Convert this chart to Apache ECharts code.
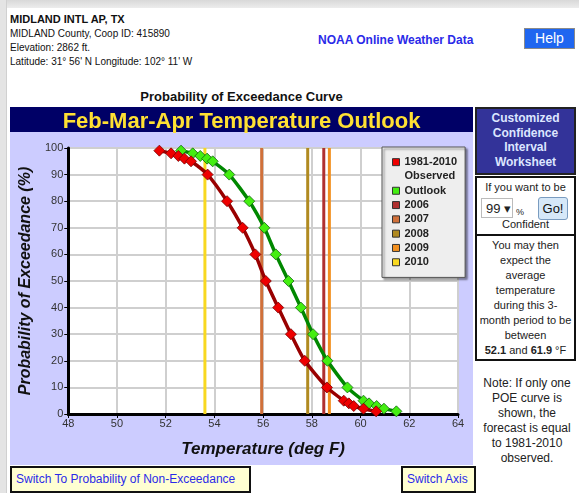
<!DOCTYPE html>
<html>
<head>
<meta charset="utf-8">
<script src="https://cdn.jsdelivr.net/npm/echarts@6/dist/echarts.min.js"></script>
<style>
  html, body { margin: 0; padding: 0; }
  body {
    width: 579px; height: 493px; position: relative; overflow: hidden;
    background: #ffffff; font-family: "Liberation Sans", Arial, sans-serif;
  }
  .frame-top { position: absolute; left: 0; top: 0; width: 579px; height: 8px; background: linear-gradient(#d8d8d8, #ececec); }
  .frame-left { position: absolute; left: 0; top: 0; width: 6px; height: 493px; background: #e4e4e4; border-right: 1px solid #d0d0d0; }
  .abs { position: absolute; }
  .station { left: 10px; top: 12px; font-size: 10px; color: #111; line-height: 14px; }
  .station b { font-size: 11px; }
  .noaa { left: 318px; top: 33px; font-size: 12px; font-weight: bold; color: #2a2ae8; }
  .help { left: 524px; top: 28px; width: 49px; height: 19px; background: #1f66f0; color: #fff; font-size: 14px;
          text-align: center; line-height: 19px; border: 1px solid #8a8a8a; box-sizing: content-box; }
  .poe { left: 10px; top: 89px; width: 463px; text-align: center; font-size: 13px; font-weight: bold; color: #111; }
  #chart { position: absolute; left: 10px; top: 107px; width: 463px; height: 358px; }
  .ws-title { left: 475px; top: 107px; width: 97px; height: 62px; background: #333399; border: 2px solid #222;
              color: #dde6ff; font-size: 12px; font-weight: bold; text-align: center; line-height: 14.5px; padding-top: 2px; }
  .ws-box { left: 475px; width: 97px; border: 2px solid #111; text-align: center; font-size: 11px; color: #222; background: #fff; }
  .ws-a { top: 176px; height: 56px; }
  .ws-b { top: 234px; height: 121px; line-height: 15px; padding-top: 2px; }
  .sel { left: 4px; top: 20px; width: 32px; height: 20px; border: 1px solid #bbb; background: #fff; font-size: 13px;
         line-height: 20px; text-align: left; padding-left: 4px; box-sizing: border-box; }
  .pct { left: 39px; top: 29px; font-size: 9px; }
  .go { left: 61px; top: 19px; width: 28px; height: 21px; border: 1px solid #7a9cc0; background: #d6e8f8; border-radius: 3px;
        font-size: 13px; line-height: 21px; text-align: center; color: #111; }
  .note { left: 476px; top: 376px; width: 102px; text-align: center; font-size: 12px; line-height: 15px; color: #222; }
  .btn { top: 466px; height: 23px; background: #ffffd2; border: 2px solid #111; color: #2a2ae8; font-size: 12px;
         line-height: 23px; padding: 0 4px; }
</style>
</head>
<body>
<div class="frame-top"></div>
<div class="frame-left"></div>

<div class="abs station"><b>MIDLAND INTL AP, TX</b><br>MIDLAND County, Coop ID: 415890<br>Elevation: 2862 ft.<br>Latitude: 31° 56' N Longitude: 102° 11' W</div>
<div class="abs noaa">NOAA Online Weather Data</div>
<div class="abs help">Help</div>
<div class="abs poe">Probability of Exceedance Curve</div>

<div id="chart"></div>

<div class="abs ws-title">Customized<br>Confidence<br>Interval<br>Worksheet</div>
<div class="abs ws-box ws-a">
  <div style="margin-top:3px">If you want to be</div>
  <div class="abs sel">99 &#9662;</div>
  <div class="abs pct">%</div>
  <div class="abs go">Go!</div>
  <div style="margin-top:25px">Confident</div>
</div>
<div class="abs ws-box ws-b">You may then<br>expect the<br>average<br>temperature<br>during this 3-<br>month period to be<br>between<br><b>52.1</b> and <b>61.9</b> °F</div>
<div class="abs note">Note: If only one<br>POE curve is<br>shown, the<br>forecast is equal<br>to 1981-2010<br>observed.</div>

<div class="abs btn" style="left:10px; width:229px;">Switch To Probability of Non-Exceedance</div>
<div class="abs btn" style="left:401px; width:63px;">Switch Axis</div>

<script>
// exceedance levels (%) and the temperatures
var poeLevels = [99, 98, 97, 96, 95, 90, 80, 70, 60, 50, 40, 30, 20, 10, 5, 4, 3, 2, 1];
var observedTemps = [51.74, 52.22, 52.52, 52.77, 53.04, 53.72, 54.52, 55.16, 55.68, 56.11, 56.62, 57.14, 57.71, 58.62, 59.31, 59.52, 59.72, 60.12, 60.64];
var outlookTemps = [52.63, 53.11, 53.42, 53.70, 53.93, 54.61, 55.43, 56.05, 56.52, 57.04, 57.55, 58.05, 58.64, 59.46, 60.12, 60.35, 60.66, 60.96, 61.47];

// observed season mean of recent years
var years = ["2006", "2007", "2008", "2009", "2010"];
var yearTemps = [58.49, 55.94, 57.83, 58.72, 53.61];
var yearColors = ["#b03030", "#d0703a", "#b08a20", "#f29020", "#f8d820"];

var xTicks = [48, 64, 2];
var yTicks = [0, 100, 10];

var font = '"Liberation Sans", Arial, sans-serif';

var chart = echarts.init(document.getElementById("chart"));

function pairs(temps) {
  return temps.map(function (t, i) { return [t, poeLevels[i]]; });
}

var series = [
  {
    name: "1981-2010",
    type: "line",
    data: pairs(observedTemps),
    smooth: 0.2,
    symbol: "diamond",
    symbolSize: 11,
    z: 5,
    lineStyle: { color: "#990000", width: 3.5 },
    itemStyle: { color: "#ee0000", borderColor: "#770000", borderWidth: 0.8 },
  },
  // second line of the "1981-2010 Observed" legend label
  { name: "Observed", type: "line", data: [], itemStyle: { color: "transparent" } },
  {
    name: "Outlook",
    type: "line",
    data: pairs(outlookTemps),
    smooth: 0.2,
    symbol: "diamond",
    symbolSize: 11,
    z: 4,
    lineStyle: { color: "#008800", width: 3.5 },
    itemStyle: { color: "#44ee11", borderColor: "#116611", borderWidth: 0.8 },
  },
];

years.forEach(function (y, i) {
  series.push({
    name: y,
    type: "line",
    data: [[yearTemps[i], yTicks[0]], [yearTemps[i], yTicks[1]]],
    symbol: "none",
    z: 2,
    lineStyle: { color: yearColors[i], width: 3 },
    itemStyle: { color: yearColors[i] },
  });
});

var legendData = series.map(function (s) {
  var d = { name: s.name };
  if (s.name === "Observed") {
    d.itemStyle = { color: "transparent", borderWidth: 0 };
  }
  return d;
});

var option = {
  backgroundColor: "#ccccff",
  animation: false,
  title: {
    text: "Feb-Mar-Apr Temperature Outlook",
    left: "center",
    top: -1,
    textStyle: { color: "#ffe033", fontSize: 22, fontWeight: "bold", fontFamily: font },
  },
  graphic: [
    { type: "rect", left: 0, top: 0, z: -1, shape: { width: 463, height: 25 }, style: { fill: "#000066" } },
  ],
  legend: {
    orient: "vertical",
    left: 372,
    top: 40,
    padding: [8, 8, 8, 10],
    itemGap: 0,
    itemWidth: 7,
    itemHeight: 7,
    icon: "rect",
    backgroundColor: "#eeeeee",
    borderColor: "#555555",
    borderWidth: 1,
    shadowColor: "rgba(0,0,0,0.45)",
    shadowBlur: 2,
    shadowOffsetX: 2,
    shadowOffsetY: 2,
    itemStyle: { borderColor: "#333", borderWidth: 1 },
    textStyle: { color: "#222", fontSize: 11, fontWeight: "bold", fontFamily: font, lineHeight: 14.3 },
    data: legendData,
  },
  grid: { left: 57, right: 15, top: 41, bottom: 51, backgroundColor: "#ffffff", show: true, borderWidth: 0 },
  xAxis: {
    type: "value",
    min: xTicks[0],
    max: xTicks[1],
    interval: xTicks[2],
    name: "Temperature (deg F)",
    nameLocation: "middle",
    nameGap: 27,
    nameTextStyle: { fontSize: 17, fontWeight: "bold", fontStyle: "italic", color: "#111", fontFamily: font },
    axisLine: { lineStyle: { color: "#000", width: 3 } },
    axisTick: { show: true, length: 4, lineStyle: { color: "#000", width: 1 } },
    axisLabel: { color: "#333", fontSize: 11, fontFamily: font, margin: 4 },
    splitLine: { show: true, lineStyle: { color: "#cfcfcf", width: 2 } },
  },
  yAxis: {
    type: "value",
    min: yTicks[0],
    max: yTicks[1],
    interval: yTicks[2],
    name: "Probability of Exceedance (%)",
    nameLocation: "middle",
    nameGap: 30,
    nameTextStyle: { fontSize: 16, fontWeight: "bold", fontStyle: "italic", color: "#111", fontFamily: font },
    axisLine: { show: true, lineStyle: { color: "#000", width: 3 } },
    axisTick: { show: true, length: 4, lineStyle: { color: "#000", width: 1 } },
    axisLabel: { color: "#333", fontSize: 11, fontFamily: font, margin: 5 },
    splitLine: { show: true, lineStyle: { color: "#cfcfcf", width: 2 } },
  },
  series: series,
};

chart.setOption(option);
</script>
</body>
</html>
